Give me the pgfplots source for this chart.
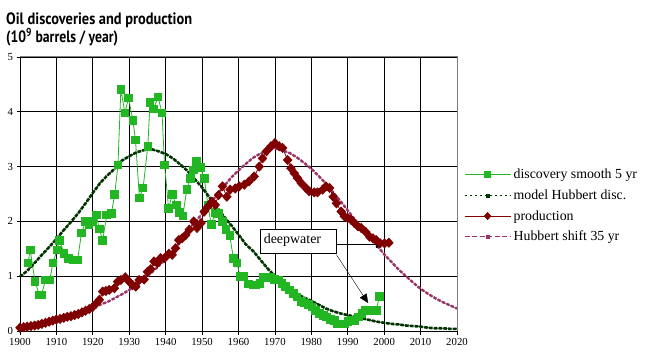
\documentclass[border=0pt]{standalone}
\usepackage{fontspec}
\setmainfont{Liberation Serif}
\newfontfamily\titlefont{PT Sans}
\usepackage{graphicx}
\usepackage{pgfplots}
\usepackage{pgfplotstable}
\pgfplotsset{compat=1.18}
\usetikzlibrary{arrows.meta}
\definecolor{disc}{RGB}{34,182,34}
\definecolor{model}{RGB}{0,51,0}
\definecolor{prod}{RGB}{128,0,0}
\definecolor{shiftc}{RGB}{153,51,102}

\pgfplotstableread{
year val
1902.2 1.24
1902.8 1.48
1904.1 0.91
1905.3 0.66
1905.9 0.66
1907.0 0.93
1908.2 0.93
1909.0 1.24
1910.2 1.48
1910.8 1.65
1912.1 1.42
1913.3 1.32
1914.6 1.30
1915.8 1.30
1916.9 1.79
1918.0 2.00
1918.9 1.94
1919.8 2.00
1920.9 2.12
1921.8 1.86
1922.7 1.65
1923.8 2.12
1925.1 2.15
1926.0 2.49
1926.9 3.03
1927.7 4.41
1928.8 3.98
1929.8 4.25
1931.0 3.84
1931.7 3.49
1932.8 2.43
1933.8 2.61
1935.1 3.37
1935.7 4.17
1936.7 4.05
1937.9 4.27
1939.0 3.98
1939.7 3.03
1940.8 2.24
1941.8 2.49
1942.9 2.30
1943.8 2.16
1944.7 2.10
1945.8 2.58
1946.8 2.79
1947.6 2.94
1948.5 3.10
1949.5 2.99
1950.6 2.79
1951.6 2.30
1952.5 1.94
1953.6 2.16
1954.5 2.15
1955.5 2.00
1956.5 1.85
1957.6 1.74
1958.6 1.33
1959.6 1.24
1960.4 1.00
1961.5 1.00
1962.8 0.86
1963.9 0.84
1964.8 0.84
1965.9 0.87
1966.9 0.98
1967.8 0.99
1968.9 0.98
1969.8 0.94
1970.9 0.93
1971.9 0.87
1972.8 0.81
1973.9 0.75
1975.0 0.69
1976.0 0.62
1977.2 0.54
1978.1 0.51
1979.2 0.48
1980.2 0.44
1981.1 0.38
1982.2 0.32
1983.3 0.29
1984.2 0.26
1985.2 0.21
1986.3 0.19
1987.2 0.13
1988.2 0.13
1989.1 0.13
1990.0 0.17
1990.9 0.19
1992.0 0.19
1993.0 0.26
1993.9 0.32
1994.9 0.38
1995.8 0.38
1996.9 0.38
1997.8 0.38
1998.7 0.63
}\disctable

\pgfplotstableread{
year val
1900 0.99
1902 1.10
1904 1.24
1906 1.39
1908 1.53
1910 1.68
1912 1.84
1914 1.99
1916 2.15
1918 2.33
1920 2.52
1922 2.70
1924 2.84
1926 2.96
1928 3.11
1930 3.19
1932 3.26
1934 3.30
1936 3.32
1938 3.28
1940 3.23
1942 3.15
1944 3.04
1946 2.92
1948 2.77
1950 2.62
1952 2.44
1954 2.26
1956 2.09
1958 1.93
1960 1.76
1962 1.58
1964 1.46
1966 1.30
1968 1.14
1970 1.00
1972 0.88
1974 0.76
1976 0.68
1978 0.61
1980 0.55
1982 0.48
1984 0.41
1986 0.36
1988 0.32
1990 0.29
1992 0.26
1994 0.23
1996 0.20
1998 0.17
2000 0.15
2002 0.13
2004 0.12
2006 0.10
2008 0.09
2010 0.08
2012 0.06
2014 0.05
2016 0.05
2018 0.04
2020 0.04
}\modeltable

\pgfplotstableread{
year val
1900 0.06
1901 0.07
1902 0.08
1903 0.09
1904 0.10
1905 0.11
1906 0.13
1907 0.15
1908 0.17
1909 0.19
1910 0.21
1911 0.22
1912 0.24
1913 0.26
1914 0.27
1915 0.29
1916 0.31
1917 0.34
1918 0.37
1919 0.40
1920 0.44
1920.9 0.50
1921.8 0.57
1922.7 0.72
1923.6 0.73
1924.5 0.75
1925.9 0.78
1926.8 0.90
1927.7 0.93
1928.9 0.98
1930.0 0.90
1930.9 0.84
1931.8 0.81
1932.7 0.93
1934.1 0.94
1935.0 1.08
1935.9 1.13
1936.8 1.27
1937.7 1.24
1938.6 1.33
1939.7 1.33
1940.9 1.41
1941.8 1.39
1942.7 1.51
1943.6 1.66
1944.5 1.69
1945.5 1.75
1946.5 1.85
1947.7 2.00
1948.6 1.88
1949.7 1.97
1950.6 2.18
1951.6 2.27
1952.7 2.36
1953.6 2.30
1954.5 2.48
1955.6 2.64
1956.8 2.45
1957.7 2.58
1959.1 2.60
1960.2 2.64
1961.6 2.67
1962.9 2.73
1964.3 2.82
1965.7 3.00
1966.6 3.15
1967.7 3.28
1968.9 3.37
1970.0 3.43
1971.2 3.37
1972.1 3.34
1973.5 3.12
1974.4 2.97
1975.3 2.88
1976.2 2.79
1977.2 2.70
1978.5 2.61
1979.4 2.55
1980.8 2.53
1981.7 2.53
1983.1 2.58
1984.0 2.64
1985.0 2.61
1986.0 2.45
1986.9 2.33
1988.2 2.18
1989.1 2.09
1990.0 2.06
1990.9 2.03
1991.8 1.97
1992.8 1.91
1993.7 1.88
1994.9 1.81
1996.0 1.72
1996.9 1.69
1997.8 1.66
1998.9 1.60
2000.1 1.60
2001.3 1.61
}\prodtable

\pgfplotstableread{
year val
1900 0.08
1902 0.10
1904 0.12
1906 0.15
1908 0.19
1910 0.22
1912 0.26
1914 0.29
1916 0.33
1918 0.38
1920 0.43
1922 0.48
1924 0.53
1926 0.60
1928 0.67
1930 0.75
1932 0.84
1934 0.95
1936 1.06
1938 1.18
1940 1.31
1942 1.46
1944 1.62
1946 1.80
1948 1.98
1950 2.14
1952 2.31
1954 2.48
1956 2.64
1958 2.80
1960 2.93
1962 3.05
1964 3.16
1966 3.24
1968 3.30
1970 3.33
1972 3.30
1974 3.25
1976 3.17
1978 3.07
1980 2.96
1982 2.83
1984 2.69
1986 2.53
1988 2.37
1990 2.20
1992 2.03
1994 1.87
1996 1.72
1998 1.56
2000 1.40
2002 1.26
2004 1.12
2006 1.00
2008 0.88
2010 0.77
2012 0.68
2014 0.60
2016 0.53
2018 0.47
2020 0.41
}\shifttable

\begin{document}
\begin{tikzpicture}
\path[use as bounding box] (-20bp,-29bp) rectangle (634bp,331bp);
\begin{axis}[
  at={(0,0)}, anchor=south west,
  scale only axis, width=437bp, height=274bp,
  xmin=1900, xmax=2020, ymin=0, ymax=5,
  xtick distance=10, ytick={0,1,2,3,4,5},
  grid=major, major grid style={black, line width=0.7bp},
  axis line style={draw=none},
  tick align=outside, major tick length=3.5bp,
  tick style={black, line width=0.7bp},
  xtick pos=bottom, ytick pos=left,
  ticklabel style={font=\fontsize{10.8}{12}\selectfont},
  /pgf/number format/assume math mode=true,
  /pgf/number format/1000 sep={},
  clip=false,
  legend image code/.code={\draw[mark repeat=2,mark phase=2,#1] plot coordinates {(0bp,0bp) (23bp,0bp) (46bp,0bp)};},
  legend style={draw=none, fill=none, at={(1.016,0.598)}, anchor=north west,
    font=\fontsize{13.9}{15.5}\selectfont, row sep=5.5bp, inner sep=0pt,
    nodes={inner xsep=2.6bp}},
  legend cell align=left,
]
\addlegendimage{disc, line width=0.8bp, mark=square*, mark size=3bp}
\addlegendentry{discovery smooth 5 yr}
\addlegendimage{model, line width=0.6bp, dash pattern=on 2.5bp off 2.5bp, mark=square*, mark size=1.6bp, mark options={solid}}
\addlegendentry{model Hubbert disc.}
\addlegendimage{prod, line width=0.8bp, mark=diamond*, mark size=3.5bp, mark options={solid, xscale=1.2}}
\addlegendentry{production}
\addlegendimage{shiftc, line width=0.6bp, dash pattern=on 5bp off 2.5bp, mark=square*, mark size=1.6bp, mark options={solid}}
\addlegendentry{Hubbert shift 35 yr}

\addplot[forget plot, disc, line width=0.8bp, mark=square*, mark size=3.8bp, mark options={solid}] table[x=year,y=val] {\disctable};
\addplot[forget plot, model, line width=0.6bp, postaction={draw, line width=2.6bp, dash pattern=on 3.6bp off 1.2bp}] table[x=year,y=val] {\modeltable};
\addplot[forget plot, prod, line width=0.8bp, mark=diamond*, mark size=4.5bp, mark options={solid, xscale=1.25}] table[x=year,y=val] {\prodtable};
\addplot[forget plot, shiftc, line width=0.5bp, postaction={draw, line width=2.4bp, dash pattern=on 3.2bp off 1.6bp}] table[x=year,y=val] {\shifttable};

\draw[gray, line width=1bp] (axis cs:1900,5) -- (axis cs:2020,5) -- (axis cs:2020,0);
\draw[black, line width=0.6bp, fill=white] (axis cs:1966.1,1.85) rectangle (axis cs:1986.9,1.41);
\node[anchor=west, inner sep=0pt, font=\fontsize{14}{16}\selectfont] at (axis cs:1966.9,1.65) {deepwater};
\draw[black, line width=0.8bp, -{Triangle[length=9bp,width=8bp]}] (axis cs:1986.9,1.585) -- (axis cs:2000.2,1.585);
\draw[black, line width=0.4bp, -{Triangle[length=9bp,width=8bp]}] (axis cs:1986.9,1.39) -- (axis cs:1995.6,0.51);
\end{axis}
\node[anchor=base west, inner sep=0pt] at (-14bp,306.5bp) {\resizebox{186bp}{\height}{\titlefont\bfseries\fontsize{16.5}{18}\selectfont Oil discoveries and production}};
\node[anchor=base west, inner sep=0pt] at (-14bp,288bp) {\resizebox{112bp}{\height}{\titlefont\bfseries\fontsize{16.5}{18}\selectfont (10\textsuperscript{9} barrels / year)}};
\end{tikzpicture}
\end{document}
